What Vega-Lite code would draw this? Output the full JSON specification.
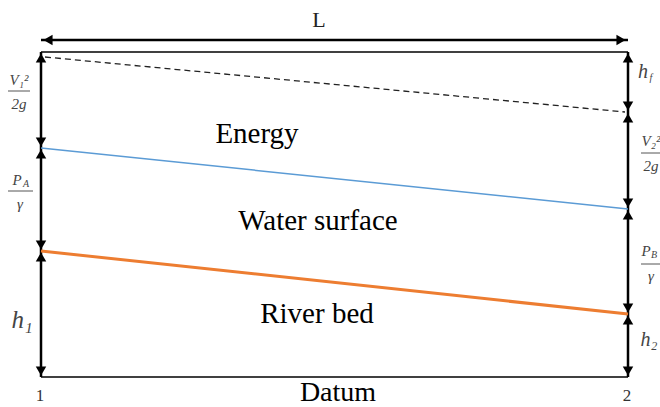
{
  "$schema": "https://vega.github.io/schema/vega-lite/v6.json",
  "width": 660,
  "height": 407,
  "padding": 0,
  "autosize": {"type": "none"},
  "background": "white",
  "config": {"view": {"stroke": null}},
  "datasets": {
    "lines": [
      {"id": "L", "x": 41, "y": 40, "x2": 628, "y2": 40},
      {"id": "top", "x": 41, "y": 52, "x2": 628, "y2": 52},
      {"id": "datum", "x": 41, "y": 377, "x2": 628, "y2": 377},
      {"id": "left", "x": 41, "y": 52, "x2": 41, "y2": 377},
      {"id": "right", "x": 628, "y": 52, "x2": 628, "y2": 377},
      {"id": "energy", "x": 45, "y": 57, "x2": 625, "y2": 112},
      {"id": "water", "x": 41, "y": 148, "x2": 628, "y2": 209},
      {"id": "bed", "x": 41, "y": 251, "x2": 628, "y2": 314},
      {"id": "bar", "x": 8, "y": 91, "x2": 30, "y2": 91},
      {"id": "bar", "x": 8, "y": 191, "x2": 33, "y2": 191},
      {"id": "bar", "x": 641, "y": 153, "x2": 662, "y2": 153},
      {"id": "bar", "x": 641, "y": 264, "x2": 660, "y2": 264}
    ],
    "heads": [
      {"x": 48, "y": 40, "dir": "left"},
      {"x": 621, "y": 40, "dir": "right"},
      {"x": 41, "y": 58, "dir": "up"},
      {"x": 41, "y": 142, "dir": "down"},
      {"x": 41, "y": 154, "dir": "up"},
      {"x": 41, "y": 245, "dir": "down"},
      {"x": 41, "y": 257, "dir": "up"},
      {"x": 41, "y": 371, "dir": "down"},
      {"x": 628, "y": 58, "dir": "up"},
      {"x": 628, "y": 106, "dir": "down"},
      {"x": 628, "y": 118, "dir": "up"},
      {"x": 628, "y": 203, "dir": "down"},
      {"x": 628, "y": 215, "dir": "up"},
      {"x": 628, "y": 308, "dir": "down"},
      {"x": 628, "y": 320, "dir": "up"},
      {"x": 628, "y": 371, "dir": "down"}
    ],
    "labels": [
      {"x": 319, "y": 27, "text": "L", "kind": "mid"},
      {"x": 257, "y": 143, "text": "Energy", "kind": "big"},
      {"x": 318, "y": 230, "text": "Water surface", "kind": "big"},
      {"x": 317, "y": 323, "text": "River bed", "kind": "big"},
      {"x": 338, "y": 401, "text": "Datum", "kind": "datum"},
      {"x": 40, "y": 401, "text": "1", "kind": "num"},
      {"x": 627, "y": 401, "text": "2", "kind": "num"}
    ],
    "math": [
      {"x": 19, "y": 80, "text": "V₁²", "kind": "small"},
      {"x": 19, "y": 104, "text": "2g", "kind": "small"},
      {"x": 17, "y": 180, "text": "P", "kind": "small"},
      {"x": 26, "y": 184, "text": "A", "kind": "sub"},
      {"x": 20, "y": 204, "text": "γ", "kind": "small"},
      {"x": 22, "y": 320, "text": "h₁", "kind": "large"},
      {"x": 643, "y": 72, "text": "h", "kind": "mid"},
      {"x": 651, "y": 78, "text": "f", "kind": "sub"},
      {"x": 651, "y": 141, "text": "V₂²", "kind": "small"},
      {"x": 651, "y": 166, "text": "2g", "kind": "small"},
      {"x": 646, "y": 251, "text": "P", "kind": "small"},
      {"x": 654, "y": 255, "text": "B", "kind": "sub"},
      {"x": 651, "y": 276, "text": "γ", "kind": "small"},
      {"x": 649, "y": 340, "text": "h₂", "kind": "mid"}
    ]
  },
  "layer": [
    {
      "data": {"name": "lines"},
      "transform": [{"filter": "datum.id === 'L' || datum.id === 'left' || datum.id === 'right'"}],
      "mark": {"type": "rule", "color": "black", "strokeWidth": 2.5},
      "encoding": {
        "x": {"field": "x", "type": "quantitative", "scale": {"domain": [0, 660], "nice": false, "zero": false}, "axis": null},
        "y": {"field": "y", "type": "quantitative", "scale": {"domain": [0, 407], "reverse": true, "nice": false, "zero": false}, "axis": null},
        "x2": {"field": "x2"},
        "y2": {"field": "y2"}
      }
    },
    {
      "data": {"name": "lines"},
      "transform": [{"filter": "datum.id === 'top' || datum.id === 'datum'"}],
      "mark": {"type": "rule", "color": "black", "strokeWidth": 1.5},
      "encoding": {
        "x": {"field": "x", "type": "quantitative", "axis": null},
        "y": {"field": "y", "type": "quantitative", "axis": null},
        "x2": {"field": "x2"},
        "y2": {"field": "y2"}
      }
    },
    {
      "data": {"name": "lines"},
      "transform": [{"filter": "datum.id === 'bar'"}],
      "mark": {"type": "rule", "color": "#555555", "strokeWidth": 1},
      "encoding": {
        "x": {"field": "x", "type": "quantitative", "axis": null},
        "y": {"field": "y", "type": "quantitative", "axis": null},
        "x2": {"field": "x2"},
        "y2": {"field": "y2"}
      }
    },
    {
      "data": {"name": "lines"},
      "transform": [{"filter": "datum.id === 'energy'"}],
      "mark": {"type": "rule", "color": "#222222", "strokeWidth": 1.3, "strokeDash": [6, 4]},
      "encoding": {
        "x": {"field": "x", "type": "quantitative", "axis": null},
        "y": {"field": "y", "type": "quantitative", "axis": null},
        "x2": {"field": "x2"},
        "y2": {"field": "y2"}
      }
    },
    {
      "data": {"name": "lines"},
      "transform": [{"filter": "datum.id === 'water'"}],
      "mark": {"type": "rule", "color": "#5b9bd5", "strokeWidth": 1.5},
      "encoding": {
        "x": {"field": "x", "type": "quantitative", "axis": null},
        "y": {"field": "y", "type": "quantitative", "axis": null},
        "x2": {"field": "x2"},
        "y2": {"field": "y2"}
      }
    },
    {
      "data": {"name": "lines"},
      "transform": [{"filter": "datum.id === 'bed'"}],
      "mark": {"type": "rule", "color": "#ed7d31", "strokeWidth": 3},
      "encoding": {
        "x": {"field": "x", "type": "quantitative", "axis": null},
        "y": {"field": "y", "type": "quantitative", "axis": null},
        "x2": {"field": "x2"},
        "y2": {"field": "y2"}
      }
    },
    {
      "data": {"name": "heads"},
      "mark": {"type": "point", "filled": true, "color": "black", "opacity": 1, "size": 110},
      "encoding": {
        "x": {"field": "x", "type": "quantitative", "axis": null},
        "y": {"field": "y", "type": "quantitative", "axis": null},
        "shape": {"field": "dir", "type": "nominal", "legend": null,
          "scale": {"domain": ["up", "down", "left", "right"], "range": ["triangle-up", "triangle-down", "triangle-left", "triangle-right"]}}
      }
    },
    {
      "data": {"name": "labels"},
      "transform": [{"filter": "datum.kind === 'big'"}],
      "mark": {"type": "text", "font": "serif", "fontSize": 29, "color": "black", "align": "center", "baseline": "alphabetic"},
      "encoding": {
        "x": {"field": "x", "type": "quantitative", "axis": null},
        "y": {"field": "y", "type": "quantitative", "axis": null},
        "text": {"field": "text"}
      }
    },
    {
      "data": {"name": "labels"},
      "transform": [{"filter": "datum.kind === 'datum'"}],
      "mark": {"type": "text", "font": "serif", "fontSize": 28, "color": "black", "align": "center", "baseline": "alphabetic"},
      "encoding": {
        "x": {"field": "x", "type": "quantitative", "axis": null},
        "y": {"field": "y", "type": "quantitative", "axis": null},
        "text": {"field": "text"}
      }
    },
    {
      "data": {"name": "labels"},
      "transform": [{"filter": "datum.kind === 'mid'"}],
      "mark": {"type": "text", "font": "serif", "fontSize": 22, "color": "#222222", "align": "center", "baseline": "alphabetic"},
      "encoding": {
        "x": {"field": "x", "type": "quantitative", "axis": null},
        "y": {"field": "y", "type": "quantitative", "axis": null},
        "text": {"field": "text"}
      }
    },
    {
      "data": {"name": "labels"},
      "transform": [{"filter": "datum.kind === 'num'"}],
      "mark": {"type": "text", "font": "serif", "fontSize": 17, "color": "#333333", "align": "center", "baseline": "alphabetic"},
      "encoding": {
        "x": {"field": "x", "type": "quantitative", "axis": null},
        "y": {"field": "y", "type": "quantitative", "axis": null},
        "text": {"field": "text"}
      }
    },
    {
      "data": {"name": "math"},
      "transform": [{"filter": "datum.kind === 'small'"}],
      "mark": {"type": "text", "font": "serif", "fontStyle": "italic", "fontSize": 15, "color": "#444444", "align": "center", "baseline": "middle"},
      "encoding": {
        "x": {"field": "x", "type": "quantitative", "axis": null},
        "y": {"field": "y", "type": "quantitative", "axis": null},
        "text": {"field": "text"}
      }
    },
    {
      "data": {"name": "math"},
      "transform": [{"filter": "datum.kind === 'sub'"}],
      "mark": {"type": "text", "font": "serif", "fontStyle": "italic", "fontSize": 10, "color": "#444444", "align": "center", "baseline": "middle"},
      "encoding": {
        "x": {"field": "x", "type": "quantitative", "axis": null},
        "y": {"field": "y", "type": "quantitative", "axis": null},
        "text": {"field": "text"}
      }
    },
    {
      "data": {"name": "math"},
      "transform": [{"filter": "datum.kind === 'mid'"}],
      "mark": {"type": "text", "font": "serif", "fontStyle": "italic", "fontSize": 20, "color": "#444444", "align": "center", "baseline": "middle"},
      "encoding": {
        "x": {"field": "x", "type": "quantitative", "axis": null},
        "y": {"field": "y", "type": "quantitative", "axis": null},
        "text": {"field": "text"}
      }
    },
    {
      "data": {"name": "math"},
      "transform": [{"filter": "datum.kind === 'large'"}],
      "mark": {"type": "text", "font": "serif", "fontStyle": "italic", "fontSize": 25, "color": "#444444", "align": "center", "baseline": "middle"},
      "encoding": {
        "x": {"field": "x", "type": "quantitative", "axis": null},
        "y": {"field": "y", "type": "quantitative", "axis": null},
        "text": {"field": "text"}
      }
    }
  ]
}
